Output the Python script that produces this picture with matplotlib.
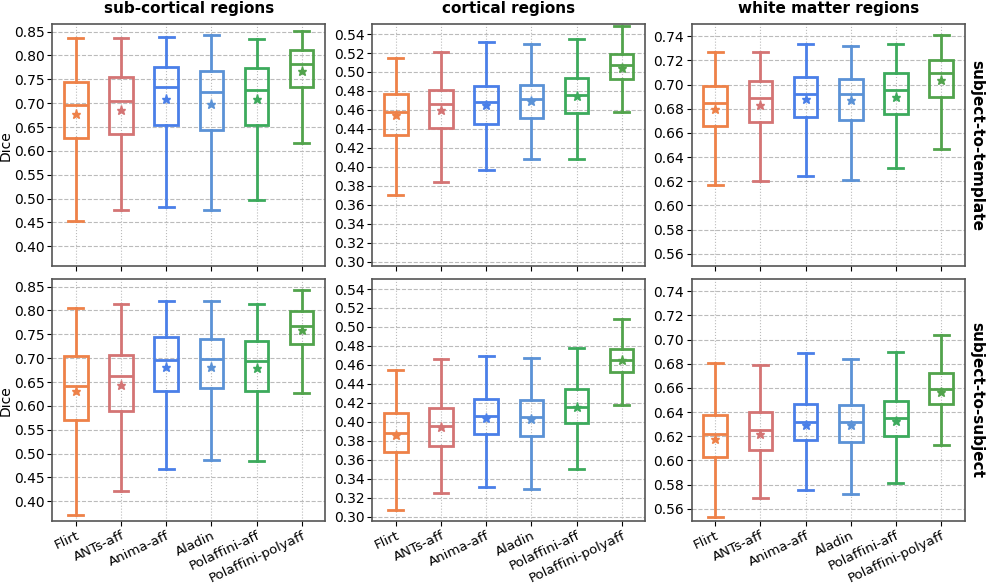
import matplotlib
matplotlib.use("Agg")
import matplotlib.pyplot as plt

methods = ["Flirt", "ANTs-aff", "Anima-aff", "Aladin", "Polaffini-aff", "Polaffini-polyaff"]
colors = ["#EE8148", "#D47474", "#4A7FE8", "#5B92D6", "#3CAA5C", "#52A34C"]
col_titles = ["sub-cortical regions", "cortical regions", "white matter regions"]
row_titles = ["subject-to-template", "subject-to-subject"]

# box stats per panel: lists over methods (whislo, q1, med, q3, whishi, mean)
subcort_s2t_whislo = [0.454, 0.476, 0.482, 0.477, 0.498, 0.616]
subcort_s2t_q1 = [0.628, 0.635, 0.654, 0.644, 0.654, 0.733]
subcort_s2t_med = [0.696, 0.704, 0.733, 0.724, 0.728, 0.783]
subcort_s2t_q3 = [0.745, 0.754, 0.776, 0.767, 0.773, 0.811]
subcort_s2t_whishi = [0.836, 0.836, 0.839, 0.842, 0.835, 0.851]
subcort_s2t_mean = [0.677, 0.686, 0.709, 0.699, 0.709, 0.767]

cort_s2t_whislo = [0.370, 0.384, 0.397, 0.408, 0.408, 0.458]
cort_s2t_q1 = [0.434, 0.441, 0.445, 0.452, 0.457, 0.493]
cort_s2t_med = [0.458, 0.466, 0.468, 0.472, 0.476, 0.507]
cort_s2t_q3 = [0.477, 0.481, 0.485, 0.486, 0.494, 0.519]
cort_s2t_whishi = [0.515, 0.521, 0.532, 0.529, 0.535, 0.548]
cort_s2t_mean = [0.455, 0.460, 0.465, 0.469, 0.475, 0.504]

wm_s2t_whislo = [0.617, 0.620, 0.624, 0.621, 0.631, 0.647]
wm_s2t_q1 = [0.666, 0.669, 0.673, 0.671, 0.676, 0.690]
wm_s2t_med = [0.685, 0.689, 0.692, 0.692, 0.6955, 0.710]
wm_s2t_q3 = [0.699, 0.703, 0.706, 0.705, 0.710, 0.720]
wm_s2t_whishi = [0.727, 0.727, 0.734, 0.732, 0.734, 0.741]
wm_s2t_mean = [0.680, 0.683, 0.688, 0.687, 0.690, 0.704]

subcort_s2s_whislo = [0.372, 0.421, 0.468, 0.486, 0.484, 0.626]
subcort_s2s_q1 = [0.571, 0.589, 0.632, 0.637, 0.631, 0.730]
subcort_s2s_med = [0.641, 0.663, 0.697, 0.699, 0.694, 0.768]
subcort_s2s_q3 = [0.705, 0.707, 0.744, 0.741, 0.735, 0.798]
subcort_s2s_whishi = [0.806, 0.813, 0.820, 0.820, 0.814, 0.842]
subcort_s2s_mean = [0.632, 0.644, 0.681, 0.681, 0.680, 0.758]

cort_s2s_whislo = [0.307, 0.325, 0.331, 0.329, 0.350, 0.418]
cort_s2s_q1 = [0.368, 0.375, 0.387, 0.385, 0.399, 0.452]
cort_s2s_med = [0.388, 0.396, 0.406, 0.405, 0.416, 0.465]
cort_s2s_q3 = [0.409, 0.415, 0.424, 0.423, 0.435, 0.477]
cort_s2s_whishi = [0.4545, 0.466, 0.469, 0.467, 0.478, 0.508]
cort_s2s_mean = [0.386, 0.394, 0.404, 0.403, 0.416, 0.465]

wm_s2s_whislo = [0.553, 0.569, 0.5755, 0.572, 0.581, 0.613]
wm_s2s_q1 = [0.6025, 0.609, 0.617, 0.6155, 0.620, 0.647]
wm_s2s_med = [0.622, 0.625, 0.632, 0.632, 0.6355, 0.6595]
wm_s2s_q3 = [0.6375, 0.640, 0.647, 0.646, 0.649, 0.672]
wm_s2s_whishi = [0.6805, 0.679, 0.689, 0.684, 0.690, 0.704]
wm_s2s_mean = [0.618, 0.622, 0.6295, 0.629, 0.633, 0.657]

panels = [
    [(subcort_s2t_whislo, subcort_s2t_q1, subcort_s2t_med, subcort_s2t_q3, subcort_s2t_whishi, subcort_s2t_mean),
     (cort_s2t_whislo, cort_s2t_q1, cort_s2t_med, cort_s2t_q3, cort_s2t_whishi, cort_s2t_mean),
     (wm_s2t_whislo, wm_s2t_q1, wm_s2t_med, wm_s2t_q3, wm_s2t_whishi, wm_s2t_mean)],
    [(subcort_s2s_whislo, subcort_s2s_q1, subcort_s2s_med, subcort_s2s_q3, subcort_s2s_whishi, subcort_s2s_mean),
     (cort_s2s_whislo, cort_s2s_q1, cort_s2s_med, cort_s2s_q3, cort_s2s_whishi, cort_s2s_mean),
     (wm_s2s_whislo, wm_s2s_q1, wm_s2s_med, wm_s2s_q3, wm_s2s_whishi, wm_s2s_mean)],
]

ylims = [(0.358, 0.866), (0.2951, 0.5506), (0.5496, 0.7502)]
yticks = [
    [0.40, 0.45, 0.50, 0.55, 0.60, 0.65, 0.70, 0.75, 0.80, 0.85],
    [0.30, 0.32, 0.34, 0.36, 0.38, 0.40, 0.42, 0.44, 0.46, 0.48, 0.50, 0.52, 0.54],
    [0.56, 0.58, 0.60, 0.62, 0.64, 0.66, 0.68, 0.70, 0.72, 0.74],
]

fig = plt.figure(figsize=(9.96, 5.84), dpi=100)
lefts = [0.0525, 0.3738, 0.6945]
bottoms = [0.544, 0.1074]
heights = [0.9589 - 0.544, 0.5223 - 0.1074]
width = 0.274

for r in range(2):
    for c in range(3):
        ax = fig.add_axes([lefts[c], bottoms[r], width, heights[r]])
        whislo, q1, med, q3, whishi, mean = panels[r][c]
        stats = []
        for i in range(len(methods)):
            stats.append(dict(whislo=whislo[i], q1=q1[i], med=med[i], q3=q3[i],
                              whishi=whishi[i], mean=mean[i], fliers=[], label=methods[i]))
        positions = list(range(len(methods)))
        bp = ax.bxp(stats, positions=positions, widths=0.52, showmeans=True,
                    showfliers=False, patch_artist=True, capwidths=0.33)
        for i, col in enumerate(colors):
            bp['boxes'][i].set(facecolor='none', edgecolor=col, linewidth=2)
            bp['medians'][i].set(color=col, linewidth=2)
            for k in (2 * i, 2 * i + 1):
                bp['whiskers'][k].set(color=col, linewidth=2)
                bp['caps'][k].set(color=col, linewidth=2)
            bp['means'][i].set(marker='*', markerfacecolor=col, markeredgecolor=col,
                               markersize=6.5)
        ax.set_xlim(-0.52, 5.52)
        ax.set_ylim(*ylims[c])
        ax.set_yticks(yticks[c])
        ax.set_yticklabels([f"{t:.2f}" for t in yticks[c]])
        ax.grid(axis='y', linestyle='--', color='#bbbbbb', linewidth=0.8)
        ax.grid(axis='x', linestyle=':', color='#bbbbbb', linewidth=0.8)
        ax.set_axisbelow(True)
        for sp in ax.spines.values():
            sp.set_color('#555555')
            sp.set_linewidth(1.2)
        ax.tick_params(axis='y', labelsize=10, pad=2)
        ax.set_xticks(positions)
        if r == 0:
            ax.set_xticklabels([])
            ax.set_title(col_titles[c], fontsize=11, fontweight='bold', pad=8)
        else:
            ax.set_xticklabels(methods, rotation=25, ha='right', rotation_mode='anchor',
                               fontsize=9.6)
            ax.tick_params(axis='x', pad=2)
        if c == 0:
            ax.set_ylabel("Dice", fontsize=10)
            ax.yaxis.set_label_coords(-0.145, 0.5)
        if c == 2:
            ax.text(1.045, 0.5, row_titles[r], transform=ax.transAxes, rotation=270,
                    va='center', ha='center', fontsize=11, fontweight='bold')

fig.savefig("out.png", dpi=100)
